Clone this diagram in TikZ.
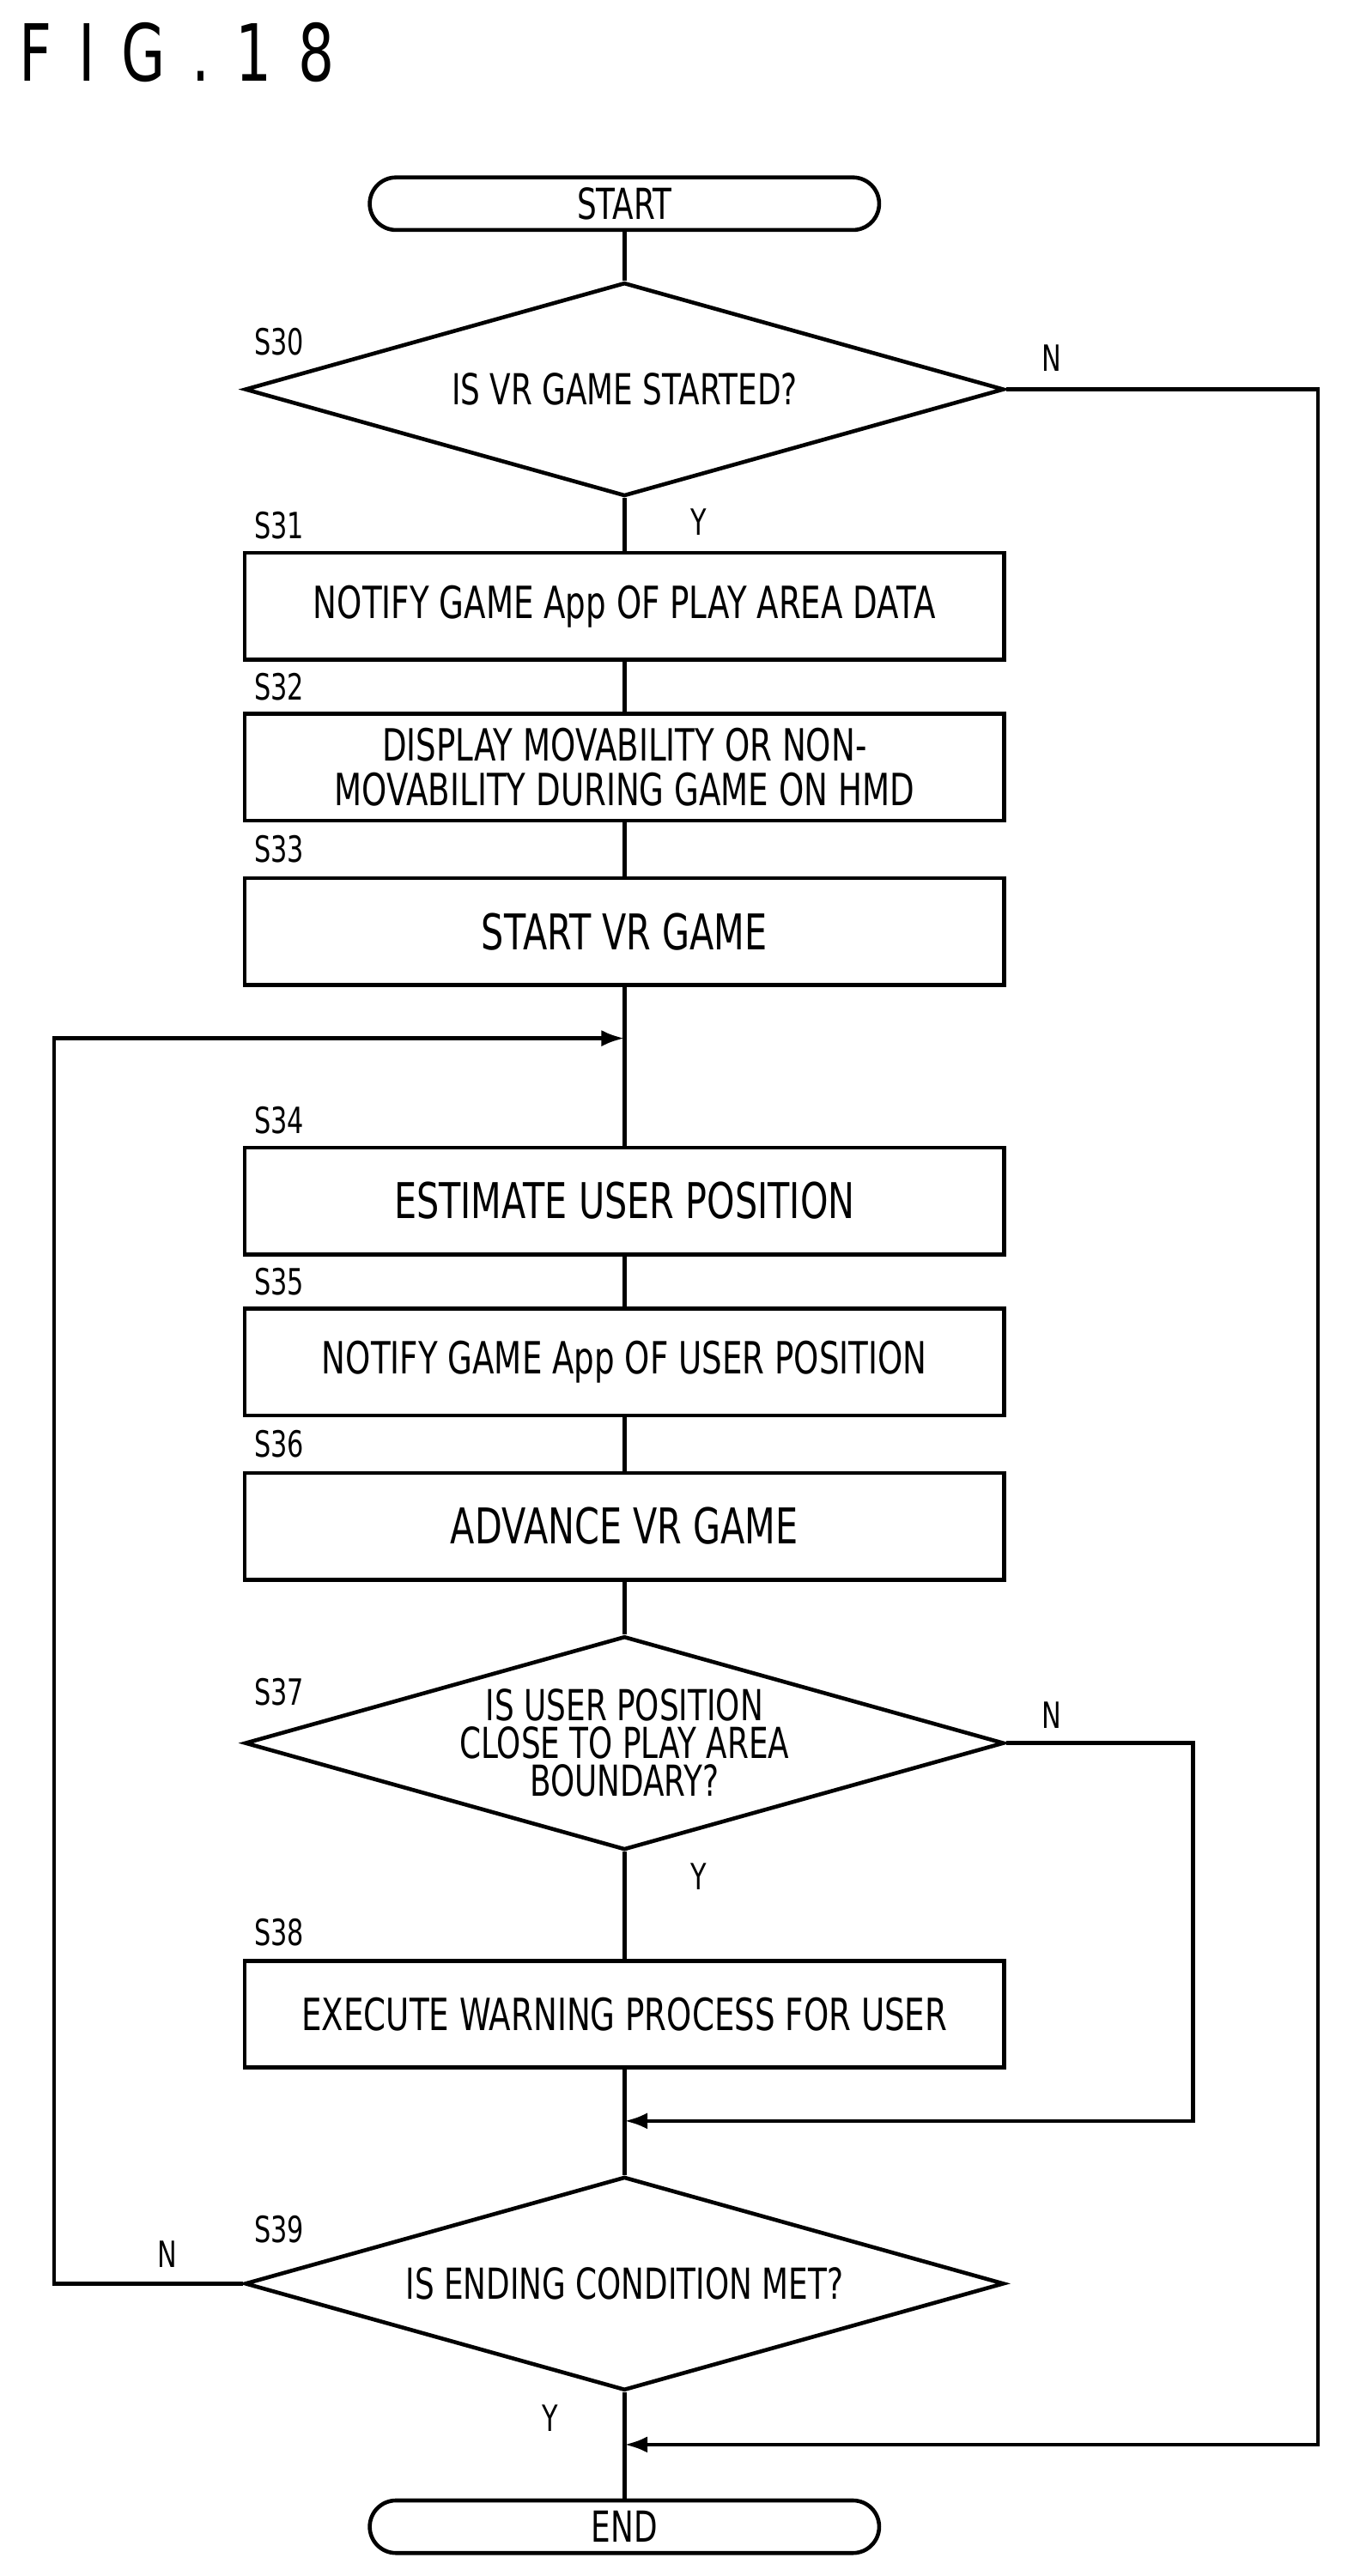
\documentclass[tikz,border=0pt]{standalone}
\usepackage{fontspec}
\setmainfont{DejaVu Sans}[FakeStretch=0.72]
\usetikzlibrary{shapes.geometric,arrows.meta}
\begin{document}
\begin{tikzpicture}[x=0.5pt,y=-0.5pt,line width=1.2pt,
  box/.style = {draw, minimum width=231pt, minimum height=32.5pt, align=center, font=\fontsize{13.5}{14}\selectfont},
  term/.style = {draw, rounded corners=8pt, minimum width=155pt, minimum height=16pt, inner sep=0pt, font=\fontsize{13}{13}\selectfont},
  dia/.style = {draw, diamond, minimum width=231pt, minimum height=65pt, inner sep=0pt},
  dtext/.style = {align=center, font=\fontsize{13}{11.5}\selectfont},
  stepno/.style = {font=\fontsize{11}{11}\selectfont},
  yn/.style = {font=\fontsize{11}{11}\selectfont},
  arr/.style = {-{Latex[length=7pt,width=5pt]}}]
\useasboundingbox (0,0) rectangle (820,1568);
\node[anchor=west, font=\fontsize{24}{24}\selectfont] (title) at (4,32) {F\hspace{8pt}I\hspace{8pt}G\hspace{8pt}.\hspace{8pt}1\hspace{8pt}8};
\node[term] (start) at (380,124) {START};
\node[dia] (s30) at (380,237) {};
\node[dtext] at (s30) {IS VR GAME STARTED?};
\node[box] (s31) at (380,369) {NOTIFY GAME App OF PLAY AREA DATA};
\node[box, font=\fontsize{13.5}{13.5}\selectfont] (s32) at (380,467) {DISPLAY MOVABILITY OR NON-\\MOVABILITY DURING GAME ON HMD};
\node[box, font=\fontsize{15}{15}\selectfont] (s33) at (380,567) {START VR GAME};
\coordinate (j1) at (380,632);
\node[box, font=\fontsize{15}{15}\selectfont] (s34) at (380,731) {ESTIMATE USER POSITION};
\node[box] (s35) at (380,829) {NOTIFY GAME App OF USER POSITION};
\node[box, font=\fontsize{15}{15}\selectfont] (s36) at (380,929) {ADVANCE VR GAME};
\node[dia] (s37) at (380,1061) {};
\node[dtext] at (s37) {IS USER POSITION\\CLOSE TO PLAY AREA\\BOUNDARY?};
\node[box] (s38) at (380,1226) {EXECUTE WARNING PROCESS FOR USER};
\coordinate (j2) at (380,1291);
\node[dia] (s39) at (380,1390) {};
\node[dtext] at (s39) {IS ENDING CONDITION MET?};
\coordinate (j3) at (380,1488);
\node[term] (end) at (380,1538) {END};
% step labels
\node[stepno] at (170,208) {S30};
\node[stepno] at (170,320) {S31};
\node[stepno] at (170,418) {S32};
\node[stepno] at (170,517) {S33};
\node[stepno] at (170,682) {S34};
\node[stepno] at (170,780) {S35};
\node[stepno] at (170,879) {S36};
\node[stepno] at (170,1030) {S37};
\node[stepno] at (170,1176) {S38};
\node[stepno] at (170,1357) {S39};
\node[yn] at (640,218) {N};
\node[yn] at (425,318) {Y};
\node[yn] at (640,1044) {N};
\node[yn] at (425,1142) {Y};
\node[yn] at (102,1372) {N};
\node[yn] at (335,1472) {Y};
% connectors
\draw (start) -- (s30);
\draw (s30) -- (s31);
\draw (s31) -- (s32);
\draw (s32) -- (s33);
\draw (s33) -- (s34);
\draw (s34) -- (s35);
\draw (s35) -- (s36);
\draw (s36) -- (s37);
\draw (s37) -- (s38);
\draw (s38) -- (s39);
\draw (s39) -- (end);
\draw[arr] (s30.east) -- (802,237) |- (j3);
\draw[arr] (s37.east) -- (726,1061) |- (j2);
\draw[arr] (s39.west) -- (33,1390) |- (j1);
\end{tikzpicture}
\end{document}
